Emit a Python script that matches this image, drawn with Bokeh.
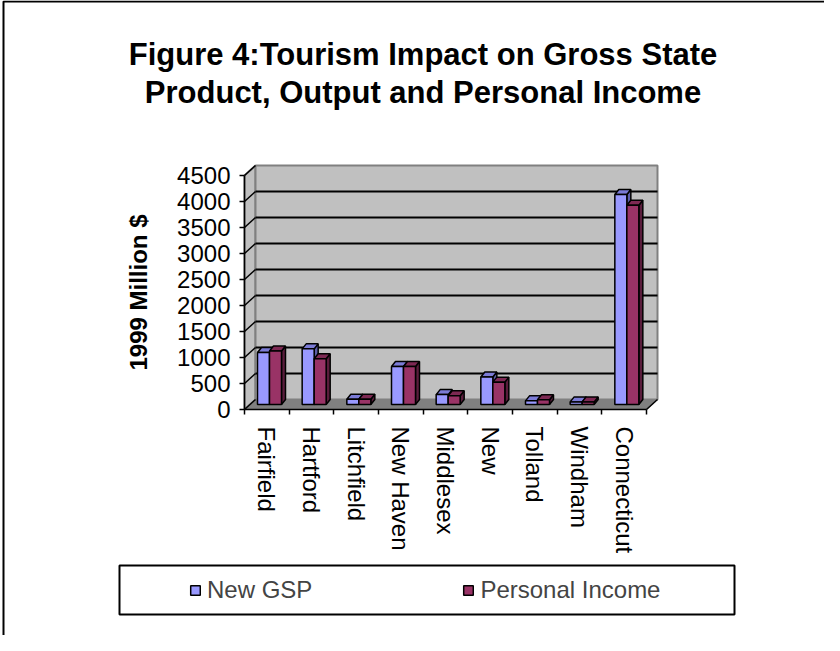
from bokeh.plotting import figure
from bokeh.models import Range1d, LinearAxis, FixedTicker, Label, Legend, LegendItem
from bokeh.embed import file_html
from bokeh.resources import INLINE

# ---- data ----
counties = ["Fairfield", "Hartford", "Litchfield", "New Haven", "Middlesex",
            "New", "Tolland", "Windham", "Connecticut"]
new_gsp = [1000, 1070, 100, 730, 190, 530, 70, 50, 4040]
personal_income = [1030, 880, 100, 730, 170, 430, 90, 50, 3830]
y_ticks = [0, 500, 1000, 1500, 2000, 2500, 3000, 3500, 4000, 4500]
title_lines = ["Figure 4:Tourism Impact on Gross State",
               "Product, Output and Personal Income"]
y_title = "1999 Million $"
series_names = ["New GSP", "Personal Income"]

# ---- geometry (screen px of the canvas) ----
W, H = 824, 635
AX_X = 244.0          # canvas x of the category axis start
AX_Y = 409.0          # canvas y of value 0
PX_CAT = 402.0 / 9    # px per category
PX_VAL = 234.0 / 4500 # px per value unit
FONT = "Liberation Sans"

def sx(px):
    return (px - AX_X) / PX_CAT

def sy(py):
    return (AX_Y - py) / PX_VAL

def dxp(px):
    return px / PX_CAT

def dyp(px):
    return px / PX_VAL

p = figure(width=W, height=H, x_range=Range1d(sx(0), sx(W)), y_range=Range1d(sy(H), sy(0)),
           output_backend="svg", toolbar_location=None, tools="",
           x_axis_type=None, y_axis_type=None, min_border=0,
           min_border_left=0, min_border_right=0, min_border_top=0, min_border_bottom=0)
p.outline_line_color = None
p.background_fill_color = "white"
p.border_fill_color = "white"

n = len(counties)
ymax = y_ticks[-1]
WX, WY = dxp(11), dyp(10)

# walls and floor
p.patch([0, WX, WX, 0], [0, WY, ymax + WY, ymax], fill_color="#C0C0C0",
        line_color="#808080", line_width=2)
p.quad(left=WX, right=n + WX, bottom=WY, top=ymax + WY, fill_color="#C0C0C0",
       line_color="#808080", line_width=2)
p.patch([0, n, n + WX, WX], [0, 0, WY, WY], fill_color="#808080", line_color="#808080")

inner = y_ticks[1:-1]
p.segment(x0=[WX] * len(inner), y0=[t + WY for t in inner],
          x1=[n + WX] * len(inner), y1=[t + WY for t in inner],
          line_color="black", line_width=1.8)
p.segment(x0=[0] * len(y_ticks), y0=y_ticks, x1=[WX] * len(y_ticks),
          y1=[t + WY for t in y_ticks], line_color="black", line_width=1.5)
p.segment(x0=[n], y0=[0], x1=[n + WX], y1=[WY], line_color="black", line_width=1.5)

# bars (pseudo 3D)
BW = dxp(12)
B_OFF = dxp(13)
B_BOT = dyp(5)
BDX, BDY = dxp(4), dyp(5)

colors = [("#9999FF", "#7B7BD6", "#5C5CA8"), ("#993366", "#7D2953", "#5A1D3C")]
fronts = []
for k, vals in enumerate([new_gsp, personal_income]):
    lefts = [i + B_OFF + k * BW for i in range(n)]
    rights = [l + BW for l in lefts]
    tops = [B_BOT + v for v in vals]
    front_c, top_c, side_c = colors[k]
    p.patches(xs=[[r, r + BDX, r + BDX, r] for r in rights],
              ys=[[B_BOT, B_BOT + BDY, t + BDY, t] for t in tops],
              fill_color=side_c, line_color="black", line_width=1.5)
    p.patches(xs=[[l, l + BDX, r + BDX, r] for l, r in zip(lefts, rights)],
              ys=[[t, t + BDY, t + BDY, t] for t in tops],
              fill_color=top_c, line_color="black", line_width=1.5)
    fr = p.quad(left=lefts, right=rights, bottom=[B_BOT] * n, top=tops,
                fill_color=front_c, line_color="black", line_width=1.5)
    fronts.append(fr)

# axes
yax = LinearAxis(fixed_location=0, bounds=(0, ymax), ticker=FixedTicker(ticks=y_ticks),
                 axis_label=y_title)
yax.major_tick_out = 5
yax.major_tick_in = 0
yax.minor_tick_out = 0
yax.minor_tick_in = 0
yax.major_label_standoff = 9
yax.major_label_text_font = FONT
yax.major_label_text_font_size = "24px"
yax.major_label_text_color = "black"
yax.axis_label_text_font = FONT
yax.axis_label_text_font_size = "24px"
yax.axis_label_text_font_style = "bold"
yax.axis_label_text_color = "black"
yax.axis_label_standoff = 22
yax.axis_line_width = 1.5
yax.major_tick_line_width = 1.5
p.add_layout(yax, "left")

centers = [i + 0.5 for i in range(n)]
xax = LinearAxis(fixed_location=0, bounds=(0, n),
                 ticker=FixedTicker(ticks=centers, minor_ticks=list(range(n + 1))))
xax.major_label_overrides = {c: name for c, name in zip(centers, counties)}
xax.major_label_orientation = "vertical"
xax.major_tick_out = 0
xax.major_tick_in = 0
xax.minor_tick_out = 5
xax.minor_tick_in = 0
xax.minor_tick_line_color = "black"
xax.minor_tick_line_width = 1.5
xax.axis_line_width = 1.5
xax.major_label_standoff = 12
xax.major_label_text_font = FONT
xax.major_label_text_font_size = "24px"
xax.major_label_text_color = "black"
p.add_layout(xax, "below")

# title
for line, base in zip(title_lines, [54, 92]):
    p.add_layout(Label(x=sx(422.5), y=sy(base), text=line, text_font=FONT,
                       text_font_size="31px", text_font_style="bold",
                       text_align="center", text_baseline="alphabetic",
                       text_color="black"))

# legend
p.quad(left=sx(119), right=sx(734), top=sy(565), bottom=sy(614),
       fill_alpha=0, line_color="black", line_width=2)
legend = Legend(items=[LegendItem(label=series_names[0], renderers=[fronts[0]]),
                       LegendItem(label=series_names[1], renderers=[fronts[1]])],
                orientation="horizontal", location=(189, 31), padding=0, margin=0,
                spacing=150, glyph_width=12, glyph_height=12, label_standoff=6,
                border_line_alpha=0, background_fill_alpha=0,
                label_text_font=FONT, label_text_font_size="24px")
p.add_layout(legend)

# chart area border
p.line(x=[sx(3), sx(3), sx(W)], y=[sy(H), sy(1), sy(1)], line_color="black", line_width=2)

open("out.html", "w").write(file_html(p, INLINE))
